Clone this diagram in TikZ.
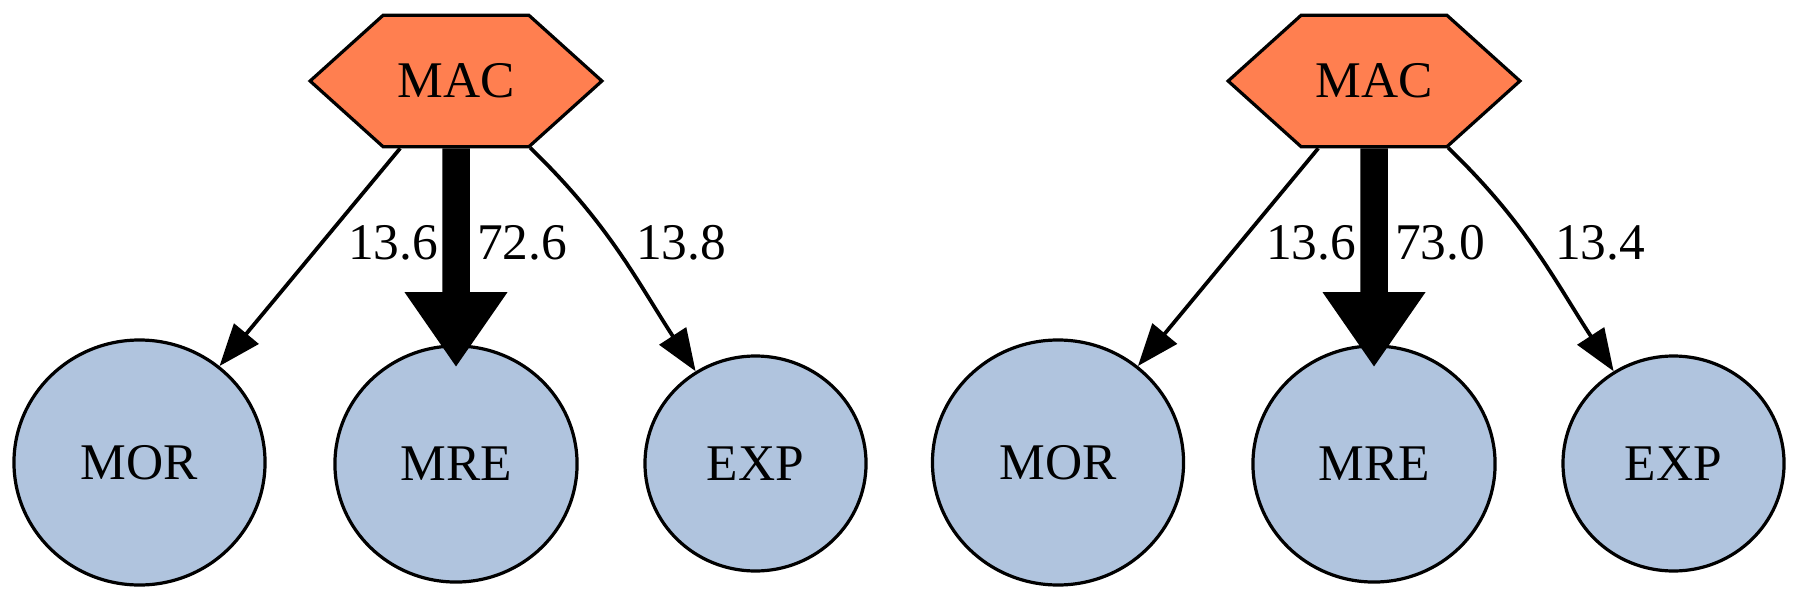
\documentclass[tikz,border=0pt]{standalone}
\usepackage{fontspec}
\setmainfont{Liberation Serif}
\usetikzlibrary{shapes.geometric}
\usetikzlibrary{shapes.symbols}
\usetikzlibrary{arrows.meta}
\definecolor{coral}{HTML}{FF7F50}
\definecolor{steel}{HTML}{B0C4DE}
\tikzset{
    macnode/.style = {signal, signal to=east and west, signal pointer angle=84, draw=black, line width=0.9pt,
                      fill=coral, minimum width=81.7pt, minimum height=36.8pt, inner xsep=4pt, font=\fontsize{14.4}{16}\selectfont},
    leafnode/.style = {ellipse, draw=black, line width=0.9pt, fill=steel, inner sep=0pt, font=\fontsize{14.4}{16}\selectfont},
    lbl/.style = {inner sep=0pt, font=\fontsize{14.4}{16}\selectfont},
    edgen/.style = {-{Triangle[length=11.8pt,width=8.8pt]}, line width=1.05pt},
    edgek/.style = {-{Triangle[length=21pt,width=27.3pt]}, line width=7.7pt, shorten >=-6.4pt}
}
\begin{document}
\begin{tikzpicture}[x=0.28pt,y=-0.28pt]
\useasboundingbox (0,0) rectangle (1800,600);
% left
\node[macnode] at (456.0,   81.0) (mac1) {MAC};
\node[leafnode, minimum width=70.3pt, minimum height=68.6pt] at (139.5, 462.5) (mor1) {MOR};
\node[leafnode, minimum width=67.8pt, minimum height=66.1pt] at (456.0, 464.0) (mre1) {MRE};
\node[leafnode, minimum width=61.9pt, minimum height=60.2pt] at (755.5, 463.5) (exp1) {EXP};
% right
\node[macnode] at (1374.0,  81.0) (mac2) {MAC};
\node[leafnode, minimum width=70.3pt, minimum height=68.6pt] at (1058.0, 462.5) (mor2) {MOR};
\node[leafnode, minimum width=67.8pt, minimum height=66.1pt] at (1374.0, 464.0) (mre2) {MRE};
\node[leafnode, minimum width=61.9pt, minimum height=60.2pt] at (1673.5, 463.5) (exp2) {EXP};
%
\draw[edgen] (mac1) -- (mor1);
\draw[edgek] (mac1) -- (mre1);
\draw[edgen] (mac1.-42) to[out=-44, in=123] (exp1);
\draw[edgen] (mac2) -- (mor2);
\draw[edgek] (mac2) -- (mre2);
\draw[edgen] (mac2.-42) to[out=-44, in=123] (exp2);
%
\node[lbl] at (393.0, 243.0) (w1) {13.6};
\node[lbl] at (522.0, 243.0) (w2) {72.6};
\node[lbl] at (681.0, 243.0) (w3) {13.8};
\node[lbl] at (1311.0, 243.0) (w4) {13.6};
\node[lbl] at (1440.0, 243.0) (w5) {73.0};
\node[lbl] at (1600.0, 243.0) (w6) {13.4};
\end{tikzpicture}
\end{document}
